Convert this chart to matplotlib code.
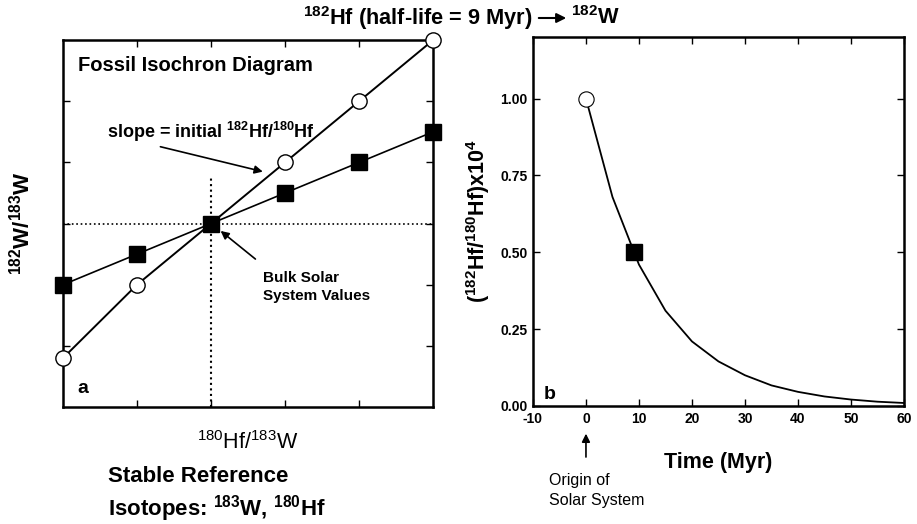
import matplotlib
matplotlib.use('Agg')
import matplotlib.pyplot as plt

plt.rcParams['font.family'] = ['Liberation Sans Narrow', 'Liberation Sans', 'DejaVu Sans']
plt.rcParams['mathtext.fontset'] = 'custom'
plt.rcParams['mathtext.rm'] = 'Liberation Sans'
plt.rcParams['mathtext.bf'] = 'Liberation Sans:bold'
plt.rcParams['mathtext.default'] = 'regular'
plt.rcParams['axes.unicode_minus'] = False

# panel a: fossil isochron
iso_x = [0, 1, 2, 3, 4, 5]
iso_circle = [0.8, 2.0, 3.0, 4.0, 5.0, 6.0]
iso_square = [2.0, 2.5, 3.0, 3.5, 4.0, 4.5]
bulk_x = 2
bulk_y = 3

# panel b: decay of 182Hf
time_myr = [0, 5, 10, 15, 20, 25, 30, 35, 40, 45, 50, 55, 60]
hf_ratio = [1.0, 0.68, 0.46, 0.31, 0.21, 0.145, 0.10, 0.067, 0.046, 0.031, 0.021, 0.014, 0.0098]
b_xticks = [-10, 0, 10, 20, 30, 40, 50, 60]
b_yticks = [0.0, 0.25, 0.5, 0.75, 1.0]

fig = plt.figure(figsize=(9.17, 5.24), dpi=100)
axa = fig.add_axes([0.0687, 0.2233, 0.4035, 0.700])
axb = fig.add_axes([0.5812, 0.2252, 0.4046, 0.704])

for ax in (axa, axb):
    for s in ax.spines.values():
        s.set_linewidth(1.8)
    ax.tick_params(direction='in', top=True, right=True, length=5, width=1)

# ---- panel a
axa.plot([bulk_x, bulk_x], [0, 3.75], ls=':', color='k', lw=1.5)
axa.plot([0, 5], [bulk_y, bulk_y], ls=':', color='k', lw=1.2)
axa.plot(iso_x, iso_circle, '-o', color='k', lw=1.4, ms=11, mfc='white', mec='k', mew=1, clip_on=False, zorder=3)
axa.plot(iso_x, iso_square, '-s', color='k', lw=1.2, ms=11, mfc='k', mec='k', clip_on=False, zorder=4)
axa.set_xlim(0, 5)
axa.set_ylim(0, 6)
axa.set_xticks([1, 2, 3, 4])
axa.set_yticks([1, 2, 3, 4, 5])
axa.set_xticklabels([])
axa.set_yticklabels([])
axa.text(0.04, 0.93, 'Fossil Isochron Diagram', transform=axa.transAxes, fontsize=14.5, fontweight='bold', va='center')
axa.text(0.04, 0.05, 'a', transform=axa.transAxes, fontsize=14, fontweight='bold', va='center')
axa.annotate('slope = initial $^{182}$Hf/$^{180}$Hf', xy=(2.7, 3.85), xytext=(0.6, 4.5),
             fontsize=13, fontweight='bold', va='center',
             arrowprops=dict(arrowstyle='-|>', color='k', lw=1.2, shrinkA=0, shrinkB=0,
                             mutation_scale=12, relpos=(0.2, 0.0)))
axa.annotate('', xy=(2.13, 2.88), xytext=(2.6, 2.42),
             arrowprops=dict(arrowstyle='-|>', color='k', lw=1.2, shrinkA=0, shrinkB=0, mutation_scale=12))
axa.text(2.7, 1.96, 'Bulk Solar\nSystem Values', fontsize=11, fontweight='bold', va='center', linespacing=1.4)
axa.set_xlabel('$^{180}$Hf/$^{183}$W', fontsize=15.5, labelpad=14)
axa.set_ylabel('$^{182}$W/$^{183}$W', fontsize=16, fontweight='bold', labelpad=17)

fig.text(108 / 917, 1 - 477 / 524, 'Stable Reference', fontsize=16, fontweight='bold', va='center')
fig.text(108 / 917, 1 - 509 / 524, 'Isotopes: $^{183}$W, $^{180}$Hf', fontsize=16, fontweight='bold', va='center')

# ---- panel b
axb.plot(time_myr, hf_ratio, color='k', lw=1.3)
axb.plot([0], [1.0], 'o', ms=11, mfc='white', mec='k', mew=0.8, zorder=3)
axb.plot([9], [0.5], 's', ms=11, mfc='k', mec='k', zorder=3)
axb.set_xlim(-10, 60)
axb.set_ylim(0, 1.2)
axb.set_xticks(b_xticks)
axb.set_yticks(b_yticks)
axb.set_yticklabels(['%.2f' % v for v in b_yticks])
axb.tick_params(labelsize=10, pad=4)
for lab in axb.get_xticklabels() + axb.get_yticklabels():
    lab.set_fontweight('bold')
axb.text(0.03, 0.03, 'b', transform=axb.transAxes, fontsize=14, fontweight='bold', va='center')
axb.set_xlabel('Time (Myr)', fontsize=15.5, fontweight='bold', labelpad=19)
axb.set_ylabel('($^{182}$Hf/$^{180}$Hf)x10$^{4}$', fontsize=15.5, fontweight='bold', labelpad=6)
axb.annotate('', xy=(0, -0.09), xytext=(0, -0.166), xycoords='data', annotation_clip=False,
             arrowprops=dict(arrowstyle='-|>', color='k', lw=1.2, shrinkA=0, shrinkB=0, mutation_scale=12))
fig.text(549 / 917, 1 - 480 / 524, 'Origin of', fontsize=11.5, va='center')
fig.text(549 / 917, 1 - 501 / 524, 'Solar System', fontsize=11.5, va='center')

# ---- top caption
fig.text(533 / 917, 1 - 18 / 524, '$^{182}$Hf (half-life = 9 Myr)', fontsize=15.7, fontweight='bold', ha='right', va='center')
fig.text(571 / 917, 1 - 18 / 524, '$^{182}$W', fontsize=15.7, fontweight='bold', ha='left', va='center')
fig.patches.append(matplotlib.patches.FancyArrowPatch((536 / 917, 1 - 18 / 524), (569 / 917, 1 - 18 / 524),
                   transform=fig.transFigure, arrowstyle='-|>', mutation_scale=14, color='k', lw=1.5))

fig.savefig('out.png', dpi=100)
